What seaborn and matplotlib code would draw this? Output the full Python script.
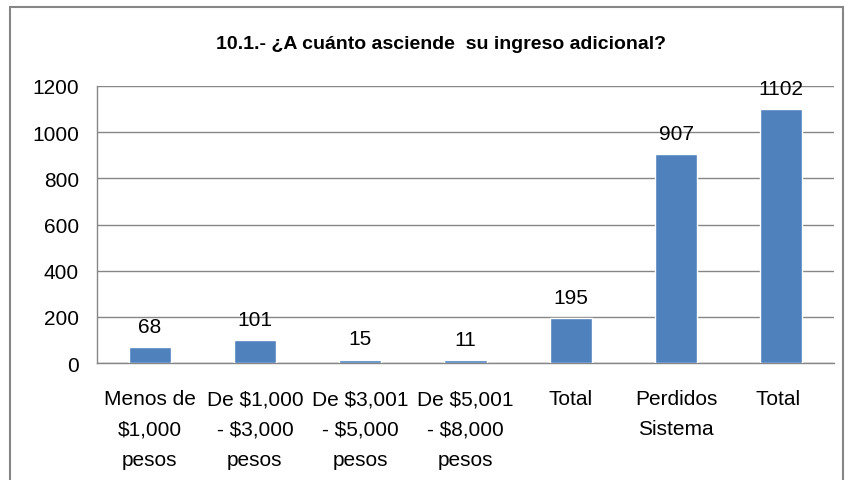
import matplotlib
matplotlib.use("Agg")
import matplotlib.pyplot as plt
import seaborn as sns
import pandas as pd
from matplotlib.patches import Rectangle

# Data
categories = ["Menos de\n$1,000\npesos", "De $1,000\n- $3,000\npesos", "De $3,001\n- $5,000\npesos",
              "De $5,001\n- $8,000\npesos", "Total", "Perdidos\nSistema", "Total "]
values = [68, 101, 15, 11, 195, 907, 1102]
yticks = [0, 200, 400, 600, 800, 1000, 1200]

df = pd.DataFrame({"cat": categories, "val": values})

sns.set_style("white")
plt.rcParams["font.family"] = ["Liberation Sans", "DejaVu Sans"]
plt.rcParams["text.color"] = "black"
plt.rcParams["xtick.labelcolor"] = "black"
plt.rcParams["ytick.labelcolor"] = "black"

fig = plt.figure(figsize=(8.48, 4.81), dpi=100)
ax = fig.add_axes([97 / 848, 1 - 364 / 481, (834 - 97) / 848, (364 - 87) / 481])

sns.barplot(data=df, x="cat", y="val", order=categories, color="#4F81BD", width=0.4,
            saturation=1, ax=ax, zorder=3)

ax.set_ylim(0, 1200)
ax.set_xlim(-0.5, len(categories) - 0.5)
ax.set_yticks(yticks)
ax.set_yticklabels([str(t) for t in yticks], fontsize=15)
ax.yaxis.grid(True, color="#868686", linewidth=1, zorder=0)
ax.set_axisbelow(True)

ax.set_xticks(range(len(categories)))
ax.set_xticklabels(categories, fontsize=15, linespacing=1.74)
ax.tick_params(axis="x", length=0, pad=19)
# category boundary ticks
ax.set_xticks([i - 0.5 for i in range(len(categories) + 1)], minor=True)
ax.tick_params(axis="x", which="minor", length=6, color="#868686", width=1, direction="out")
ax.tick_params(axis="y", length=6, color="#868686", width=1, direction="out", pad=7)

for s in ["top", "right"]:
    ax.spines[s].set_visible(False)
for s in ["left", "bottom"]:
    ax.spines[s].set_color("#868686")
    ax.spines[s].set_linewidth(1)

ax.set_xlabel("")
ax.set_ylabel("")

for i, v in enumerate(values):
    ax.annotate(str(v), (i, v), xytext=(0, 8), textcoords="offset points",
                ha="center", va="bottom", fontsize=15)

fig.text(441 / 848, 1 - 45 / 481, "10.1.- ¿A cuánto asciende  su ingreso adicional?",
         ha="center", va="center", fontsize=14, fontweight="bold")

# outer chart frame
fig.patches.append(Rectangle((10 / 848, -0.1), (843 - 10) / 848, 1.1 - 8 / 481,
                             transform=fig.transFigure, fill=False, edgecolor="#868686",
                             linewidth=1.5))

fig.savefig("out.png", dpi=100)
